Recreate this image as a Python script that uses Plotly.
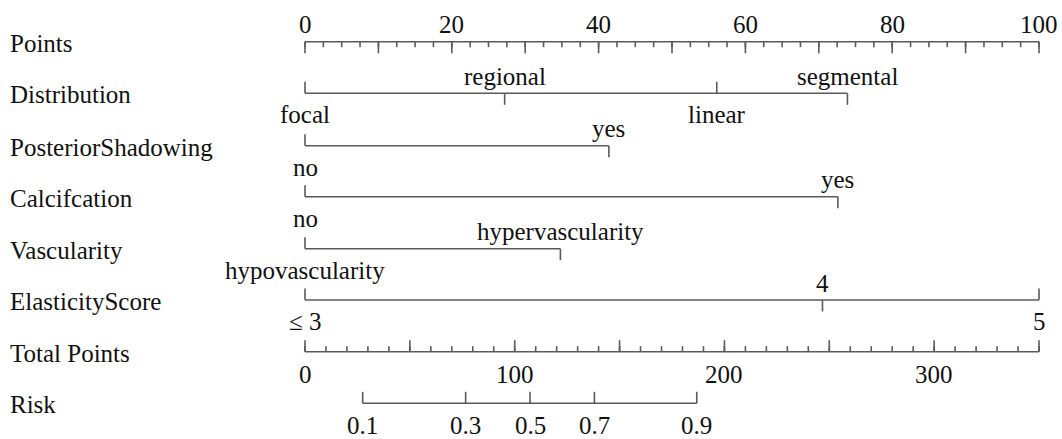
import plotly.graph_objects as go

# ---------------- data ----------------
row_names = ["Points", "Distribution", "PosteriorShadowing", "Calcifcation",
             "Vascularity", "ElasticityScore", "Total Points", "Risk"]

points_labels = [0, 20, 40, 60, 80, 100]
points_major = [0, 10, 20, 30, 40, 50, 60, 70, 80, 90, 100]
points_minor = [i * 2.5 for i in range(41)]

distribution_levels = ["focal", "regional", "linear", "segmental"]
distribution_points = [0, 27.2, 56.1, 73.9]

shadowing_levels = ["no", "yes"]
shadowing_points = [0, 41.4]

calcification_levels = ["no", "yes"]
calcification_points = [0, 72.6]

vascularity_levels = ["hypovascularity", "hypervascularity"]
vascularity_points = [0, 34.8]

elasticity_levels = ["≤ 3", "4", "5"]
elasticity_points = [0, 70.5, 100]

total_labels = [0, 100, 200, 300]
total_major = [0, 50, 100, 150, 200, 250, 300, 350]
total_minor = list(range(0, 351, 10))

risk_labels = ["0.1", "0.3", "0.5", "0.7", "0.9"]
risk_total_points = [27.5, 76.6, 107.3, 138.0, 186.8]

# ---------------- layout / style ----------------
W, H = 1062, 439
P0, P1 = 305, 1039          # pixel span of the points / total-points scales
FONT = dict(family="Liberation Serif, Times New Roman, serif", size=25, color="#111111")
LINE = dict(color="#5a5a5a", width=1.6)
row_y = [41.7, 93.3, 145.7, 196.7, 248.7, 300.0, 351.7, 403.3]
TICK = 11.5
MINOR = 5.5
ABOVE = -17.0
BELOW = 21.5

sp1 = (P1 - P0) / 100.0
sp2 = (P1 - P0) / 350.0

fig = go.Figure()
annotations = []


def segs(xs, y0, y1):
    X, Y = [], []
    for x in xs:
        X += [x, x, None]
        Y += [y0, y1, None]
    return X, Y


def add_line(X, Y, axis="x"):
    fig.add_trace(go.Scatter(x=X, y=Y, mode="lines", line=LINE, xaxis=axis, yaxis="y",
                             hoverinfo="skip", showlegend=False))


def add_text(x, y, text, axis="x"):
    annotations.append(dict(x=x, y=y, xref=axis, yref="y", text=text, showarrow=False,
                            xanchor="center", yanchor="middle", font=FONT))


# left row names
for name, y in zip(row_names, row_y):
    annotations.append(dict(x=8 / W, y=y + 1.5, xref="paper", yref="y", text=name,
                            showarrow=False, xanchor="left", yanchor="middle", font=FONT))

# Points scale: ticks down, labels above
y = row_y[0]
add_line([0, 100], [y, y])
X, Y = segs(points_minor, y, y + MINOR)
add_line(X, Y)
X, Y = segs(points_major, y, y + TICK)
add_line(X, Y)
for v in points_labels:
    add_text(v, y - 17.5, str(v))

# categorical rows: tick opposite to the label side
cat_rows = [
    (distribution_levels, distribution_points, ["below", "above", "below", "above"], row_y[1]),
    (shadowing_levels, shadowing_points, ["below", "above"], row_y[2]),
    (calcification_levels, calcification_points, ["below", "above"], row_y[3]),
    (vascularity_levels, vascularity_points, ["below", "above"], row_y[4]),
    (elasticity_levels, elasticity_points, ["below", "above", "below"], row_y[5]),
]
for levels, pts, sides, y in cat_rows:
    add_line([min(pts), max(pts)], [y, y])
    for lev, p, side in zip(levels, pts, sides):
        if side == "below":
            add_line([p, p], [y, y - TICK])
            add_text(p, y + BELOW, lev)
        else:
            add_line([p, p], [y, y + TICK])
            add_text(p, y + ABOVE, lev)

# Total points scale: ticks up, labels below
y = row_y[6]
add_line([0, 350], [y, y], "x2")
X, Y = segs(total_minor, y, y - MINOR)
add_line(X, Y, "x2")
X, Y = segs(total_major, y, y - TICK)
add_line(X, Y, "x2")
for v in total_labels:
    add_text(v, y + 23.0, str(v), "x2")

# Risk scale on total points axis
y = row_y[7]
add_line([min(risk_total_points), max(risk_total_points)], [y, y], "x2")
X, Y = segs(risk_total_points, y, y - TICK)
add_line(X, Y, "x2")
for lab, v in zip(risk_labels, risk_total_points):
    add_text(v, y + 21.7, lab, "x2")

fig.update_layout(
    width=W, height=H,
    margin=dict(l=0, r=0, t=0, b=0),
    paper_bgcolor="white", plot_bgcolor="white",
    showlegend=False,
    xaxis=dict(range=[-P0 / sp1, (W - P0) / sp1], visible=False, fixedrange=True),
    xaxis2=dict(range=[-P0 / sp2, (W - P0) / sp2], visible=False, overlaying="x",
                fixedrange=True),
    yaxis=dict(range=[H, 0], visible=False, fixedrange=True),
    annotations=annotations,
)

fig.write_html("out.html", config={"displayModeBar": False})
